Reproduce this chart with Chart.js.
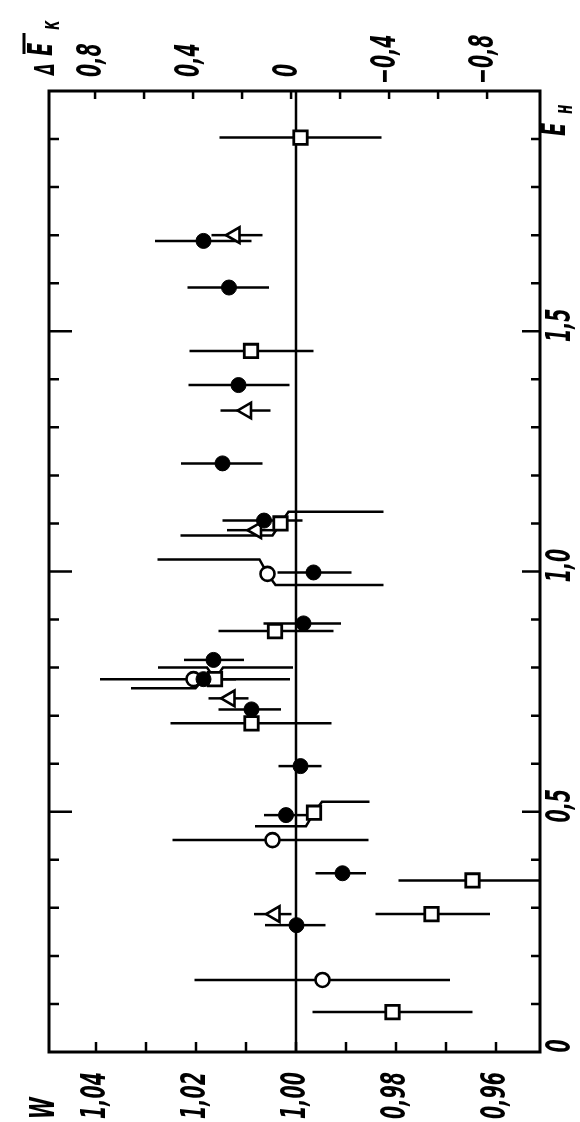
<!DOCTYPE html>
<html>
<head>
<meta charset="utf-8">
<title>W vs E_H</title>
<script src="https://cdn.jsdelivr.net/npm/chart.js@4.4.1/dist/chart.umd.min.js"></script>
<style>
  html, body { margin: 0; padding: 0; background: #fff; }
  canvas { display: block; }
</style>
</head>
<body>
<canvas id="chart" width="580" height="1122"></canvas>
<script>
// --- data (E_H on the long axis, W across) ---
// filled circles
const fcEH    = [1.688, 1.591, 1.388, 1.225, 1.106, 0.998, 0.892, 0.816, 0.776, 0.713, 0.595, 0.493, 0.372, 0.264];
const fcW     = [1.0185, 1.0134, 1.0115, 1.0147, 1.0064, 0.9965, 0.9985, 1.0165, 1.0185, 1.0089, 0.9991, 1.0020, 0.9907, 0.9999];
const fcLeft  = [1.0282, 1.0217, 1.0215, 1.0230, 1.0147, 1.0037, 1.0065, 1.0224, 1.0330, 1.0155, 1.0035, 1.0064, 0.9961, 1.0062];
const fcRight = [1.0089, 1.0054, 1.0013, 1.0067, 0.9987, 0.9889, 0.9910, 1.0104, 1.0120, 1.0030, 0.9949, 0.9979, 0.9860, 0.9941];
const fcLeftEH  = [null, null, null, null, null, null, null, null, 0.757, null, null, null, null, null];
const fcRightEH = [null, null, null, null, null, null, null, null, null, null, null, null, null, null];

// open circles
const ocEH    = [0.995, 0.776, 0.441, 0.150];
const ocW     = [1.0057, 1.0205, 1.0047, 0.9947];
const ocLeft  = [1.0277, 1.0392, 1.0247, 1.0203];
const ocRight = [0.9825, 1.0012, 0.9855, 0.9692];
const ocLeftEH  = [1.025, null, null, null];
const ocRightEH = [0.972, null, null, null];

// open squares
const sqEH    = [1.903, 1.459, 1.100, 0.876, 0.776, 0.684, 0.498, 0.357, 0.287, 0.083];
const sqW     = [0.9991, 1.0090, 1.0031, 1.0042, 1.0162, 1.0089, 0.9964, 0.9647, 0.9729, 0.9807];
const sqLeft  = [1.0153, 1.0213, 1.0231, 1.0155, 1.0276, 1.0251, 1.0082, 0.9795, 0.9841, 0.9967];
const sqRight = [0.9829, 0.9965, 0.9825, 0.9925, 1.0006, 0.9929, 0.9853, 0.9512, 0.9612, 0.9647];
const sqLeftEH  = [null, null, 1.075, null, 0.800, null, 0.470, null, null, null];
const sqRightEH = [null, null, 1.1245, null, 0.800, null, 0.521, null, null, null];

// open triangles
const trEH    = [1.700, 1.335, 1.086, 0.736, 0.287];
const trW     = [1.0122, 1.0099, 1.0079, 1.0132, 1.0042];
const trLeft  = [1.0169, 1.0151, 1.0138, 1.0175, 1.0084];
const trRight = [1.0067, 1.0051, 1.0039, 1.0095, 1.0009];

// axes
const wTicks  = [1.04, 1.03, 1.02, 1.01, 1.00, 0.99, 0.98, 0.97, 0.96];
const wLabels = ['1,04', '1,02', '1,00', '0,98', '0,96'];
const dekTicks  = [0.8, 0.6, 0.4, 0.2, 0, -0.2, -0.4, -0.6, -0.8];
const dekLabels = ['0,8', '0,4', '0', '\u22120,4', '\u22120,8'];
const ehTicks   = [0.1,0.2,0.3,0.4,0.5,0.6,0.7,0.8,0.9,1.0,1.1,1.2,1.3,1.4,1.5,1.6,1.7,1.8,1.9];
const ehLabels  = ['0', '0,5', '1,0', '1,5'];

const series = [
  { eh: fcEH, w: fcW, lo: fcLeft, hi: fcRight, loEH: fcLeftEH, hiEH: fcRightEH },
  { eh: ocEH, w: ocW, lo: ocLeft, hi: ocRight, loEH: ocLeftEH, hiEH: ocRightEH },
  { eh: sqEH, w: sqW, lo: sqLeft, hi: sqRight, loEH: sqLeftEH, hiEH: sqRightEH },
  { eh: trEH, w: trW, lo: trLeft, hi: trRight, loEH: null, hiEH: null }
];

function pts(eh, w){ return eh.map((v,i)=>({ x: w[i], y: v })); }

// text turned to read bottom-to-top, squeezed like the lettering of the figure
function vtext(ctx, str, x, y, align, size){
  ctx.save();
  ctx.translate(x, y);
  ctx.rotate(-Math.PI/2);
  ctx.scale(0.64, 1);
  ctx.font = 'italic bold ' + size + 'px "DejaVu Sans Condensed", "DejaVu Sans", sans-serif';
  ctx.textAlign = align;
  ctx.textBaseline = 'middle';
  ctx.fillStyle = '#000';
  ctx.fillText(str, 0, 0);
  ctx.restore();
}

// error bars + W = 1 line, under the markers
const errBars = {
  id: 'errBars',
  beforeDatasetsDraw(chart){
    const { ctx, chartArea: a, scales: { x, y } } = chart;
    ctx.save();
    ctx.beginPath(); ctx.rect(a.left, a.top, a.right - a.left, a.bottom - a.top); ctx.clip();
    ctx.strokeStyle = '#000';
    ctx.lineWidth = 2.5;
    const x0 = x.getPixelForValue(1);
    ctx.beginPath(); ctx.moveTo(x0, a.top); ctx.lineTo(x0, a.bottom); ctx.stroke();

    function arm(px, py, endW, kinkEH){
      const xe = x.getPixelForValue(endW);
      ctx.beginPath();
      ctx.moveTo(px, py);
      if(kinkEH != null){
        const ky = y.getPixelForValue(kinkEH);
        const kx = px + Math.sign(xe - px) * 8;
        ctx.lineTo(kx, ky);
        ctx.lineTo(xe, ky);
      } else {
        ctx.lineTo(xe, py);
      }
      ctx.stroke();
    }
    series.forEach(s=>{
      s.eh.forEach((v,i)=>{
        const px = x.getPixelForValue(s.w[i]);
        const py = y.getPixelForValue(v);
        arm(px, py, s.lo[i], s.loEH ? s.loEH[i] : null);
        arm(px, py, s.hi[i], s.hiEH ? s.hiEH[i] : null);
      });
    });
    ctx.restore();
  }
};

// frame, inward ticks and rotated labels
const frame = {
  id: 'frame',
  afterDatasetsDraw(chart){
    const { ctx, chartArea: a, scales: { x, x2, y } } = chart;
    ctx.save();
    ctx.strokeStyle = '#000';
    ctx.lineWidth = 2.5;
    ctx.beginPath();
    wTicks.forEach(v=>{ const px = x.getPixelForValue(v); ctx.moveTo(px, a.bottom); ctx.lineTo(px, a.bottom - 10); });
    dekTicks.forEach(v=>{ const px = x2.getPixelForValue(v); ctx.moveTo(px, a.top); ctx.lineTo(px, a.top + 8); });
    ehTicks.forEach(v=>{
      const py = y.getPixelForValue(v);
      const major = Math.abs(v*2 - Math.round(v*2)) < 1e-6;
      ctx.moveTo(a.left, py); ctx.lineTo(a.left + (major ? 23 : 10), py);
      ctx.moveTo(a.right, py); ctx.lineTo(a.right - (major ? 18 : 9), py);
    });
    ctx.stroke();
    ctx.lineWidth = 3;
    ctx.strokeRect(a.left, a.top, a.right - a.left, a.bottom - a.top);

    // W labels (bottom)
    wLabels.forEach(t=>{
      const v = parseFloat(t.replace(',', '.'));
      vtext(ctx, t, x.getPixelForValue(v), 1119, 'left', 33);
    });
    vtext(ctx, 'W', 45, 1119, 'left', 34);

    // delta E_K labels (top)
    dekLabels.forEach(t=>{
      const v = parseFloat(t.replace('\u2212', '-').replace(',', '.'));
      const neg = t.charAt(0) === '\u2212';
      vtext(ctx, t, x2.getPixelForValue(v) - 3, neg ? 84 : 77, 'left', 33);
    });
    // axis name: delta E-bar with subscript K
    vtext(ctx, '\u0394', 47, 75, 'left', 26);
    vtext(ctx, 'E', 43, 56, 'left', 34);
    ctx.lineWidth = 3;
    ctx.beginPath(); ctx.moveTo(24, 54); ctx.lineTo(24, 33); ctx.stroke();
    vtext(ctx, '\u043a', 53, 30, 'left', 24);

    // E_H labels (right)
    ehLabels.forEach(t=>{
      const v = parseFloat(t.replace(',', '.'));
      vtext(ctx, t, 561, y.getPixelForValue(v) - 6, 'center', 33);
    });
    vtext(ctx, 'E', 556, 136, 'left', 34);
    vtext(ctx, '\u043d', 566, 114, 'left', 24);
    ctx.restore();
  }
};

const ctx = document.getElementById('chart').getContext('2d');
new Chart(ctx, {
  type: 'scatter',
  data: {
    datasets: [
      { label: 'filled', data: pts(fcEH, fcW), pointStyle: 'circle', pointRadius: 7.5,
        backgroundColor: '#000', borderColor: '#000', borderWidth: 1 },
      { label: 'square', data: pts(sqEH, sqW), pointStyle: 'rect', pointRadius: 9.5,
        backgroundColor: '#fff', borderColor: '#000', borderWidth: 2.8 },
      { label: 'triangle', data: pts(trEH, trW), pointStyle: 'triangle', pointRadius: 9, rotation: -90,
        backgroundColor: '#fff', borderColor: '#000', borderWidth: 2.6 },
      { label: 'open', data: pts(ocEH, ocW), pointStyle: 'circle', pointRadius: 7,
        backgroundColor: '#fff', borderColor: '#000', borderWidth: 2.6 }
    ]
  },
  options: {
    responsive: false,
    animation: false,
    events: [],
    layout: { padding: { left: 49, right: 40, top: 91, bottom: 70 } },
    plugins: { legend: { display: false }, tooltip: { enabled: false } },
    scales: {
      x:  { type: 'linear', min: 0.9512, max: 1.0494, reverse: true, display: false },
      x2: { type: 'linear', axis: 'x', min: -1.016, max: 0.988, reverse: true, display: false },
      y:  { type: 'linear', min: 0, max: 2.0, display: false }
    }
  },
  plugins: [errBars, frame]
});
</script>
</body>
</html>
